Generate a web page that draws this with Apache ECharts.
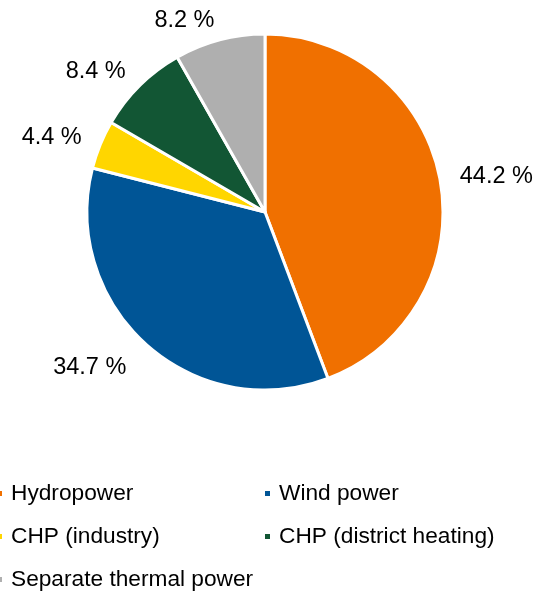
<!DOCTYPE html>
<html>
<head>
<meta charset="utf-8">
<script src="https://cdn.jsdelivr.net/npm/echarts@6/dist/echarts.min.js"></script>
<style>html,body{margin:0;padding:0;background:#fff}#c{width:547px;height:591px}</style>
</head>
<body>
<div id="c"></div>
<script>
const categories = ["Hydropower", "Wind power", "CHP (industry)", "CHP (district heating)", "Separate thermal power"];
const values = [44.2, 34.7, 4.4, 8.4, 8.2];
const colors = ["#F07000", "#005596", "#FFD600", "#125634", "#AFAFAF"];
const legendLeftCol = ["Hydropower", "CHP (industry)", "Separate thermal power"];
const legendRightCol = ["Wind power", "CHP (district heating)"];
const labelGaps = [20, 30, 20, 20, 20];

const font = "'Liberation Sans', Arial, sans-serif";
const chart = echarts.init(document.getElementById('c'), null, {renderer: 'canvas'});
const legendBase = {
  orient: 'vertical',
  top: 482,
  height: 150,
  padding: 0,
  itemWidth: 7,
  itemHeight: 7,
  itemGap: 20,
  icon: 'rect',
  selectedMode: false,
  textStyle: {fontFamily: font, fontSize: 22.7, color: '#000', lineHeight: 22, padding: [0, 0, 0, 3]}
};
chart.setOption({
  animation: false,
  color: colors,
  legend: [
    Object.assign({}, legendBase, {left: -5, data: legendLeftCol}),
    Object.assign({}, legendBase, {left: 263, data: legendRightCol})
  ],
  series: [{
    type: 'pie',
    center: [265, 212],
    radius: 178,
    startAngle: 90,
    clockwise: true,
    avoidLabelOverlap: false,
    itemStyle: {borderColor: '#fff', borderWidth: 3},
    label: {
      show: true,
      position: 'outside',
      formatter: p => p.value.toFixed(1) + ' %',
      fontFamily: font,
      fontSize: 23.5,
      color: '#000',
      distanceToLabelLine: 0
    },
    labelLine: {show: false, length: 20, length2: 0},
    emphasis: {disabled: true},
    data: categories.map((c, i) => ({name: c, value: values[i], labelLine: {show: false, length: labelGaps[i], length2: 0}}))
  }]
});
</script>
</body>
</html>
